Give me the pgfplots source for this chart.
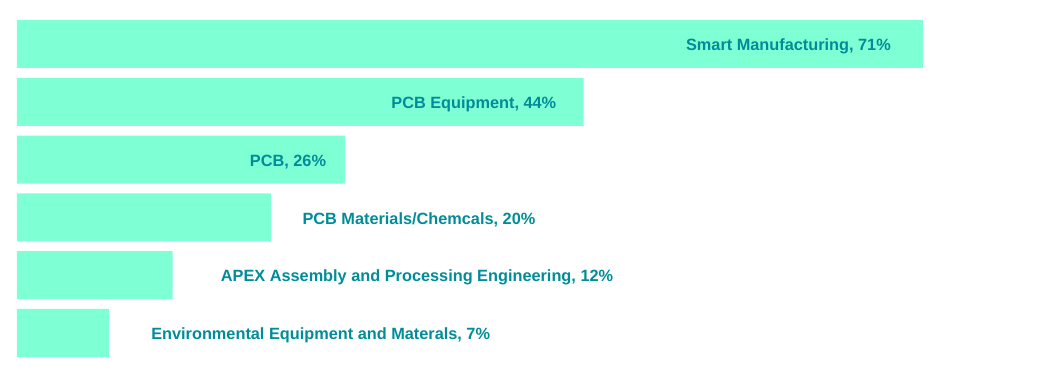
\documentclass[border=0pt]{standalone}
\usepackage{pgfplots}
\pgfplotsset{compat=1.18}
\usepackage{fontspec}
\setmainfont{Liberation Sans}
\definecolor{barc}{HTML}{7FFFD4}
\definecolor{txt}{RGB}{0,140,152}
\begin{document}
\begin{tikzpicture}
\begin{axis}[
  hide axis, scale only axis,
  x=12.76bp, y=57.8bp,
  xmin=-1.332, xmax=81.35,
  ymin=-0.761, ymax=5.709,
  y dir=reverse,
  xbar, bar width=48bp, bar shift=0pt,
  clip=false,
]
\addplot[fill=barc, draw=none] coordinates {(71,0) (44.4,1) (25.7,2) (19.9,3) (12.2,4) (7.2,5)};
\path (rel axis cs:0,0) rectangle (rel axis cs:1,1);
\tikzset{lab/.style={anchor=center, text=txt, font=\fontsize{16.3bp}{19bp}\selectfont\bfseries, inner sep=0pt, yshift=-2bp}}
\node[lab] at (axis cs:60.46,0) {Smart Manufacturing, 71\%};
\node[lab] at (axis cs:35.8,1) {PCB Equipment, 44\%};
\node[lab] at (axis cs:21.24,2) {PCB, 26\%};
\node[lab] at (axis cs:31.5,3) {PCB Materials/Chemcals, 20\%};
\node[lab] at (axis cs:31.35,4) {APEX Assembly and Processing Engineering, 12\%};
\node[lab] at (axis cs:23.8,5) {Environmental Equipment and Materals, 7\%};
\end{axis}
\end{tikzpicture}
\end{document}
